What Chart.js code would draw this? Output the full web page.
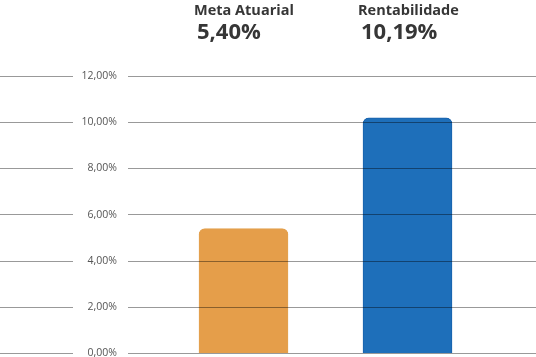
<!DOCTYPE html>
<html>
<head>
<meta charset="utf-8">
<script src="https://cdn.jsdelivr.net/npm/chart.js@4/dist/chart.umd.min.js"></script>
<style>
html,body{margin:0;padding:0;background:#fff;}
#wrap{width:536px;height:357px;position:relative;}
</style>
</head>
<body>
<div id="wrap"><canvas id="c" width="536" height="357"></canvas></div>
<script>
const categories = ['Meta Atuarial', 'Rentabilidade'];
const values = [5.40, 10.19];
const barColors = ['#E59E4A', '#1E6FBA'];
const barBorders = ['#E3A250', '#1862AC'];
const yTicks = [0, 2, 4, 6, 8, 10, 12];

const fmt = v => v.toFixed(2).replace('.', ',') + '%';

const topLabels = {
  id: 'topLabels',
  afterDraw(chart) {
    const ctx = chart.ctx;
    const meta = chart.getDatasetMeta(0);
    ctx.save();
    ctx.fillStyle = '#363636';
    ctx.textAlign = 'left';
    ctx.textBaseline = 'alphabetic';
    meta.data.forEach((bar, i) => {
      const left = bar.x - bar.width / 2;
      ctx.font = 'bold 14.5px "Open Sans"';
      ctx.fillText(categories[i], left - 5, 14.5);
      ctx.font = 'bold 22px "Open Sans"';
      ctx.fillText(fmt(values[i]), left - 2, 39);
    });
    ctx.restore();
  }
};

const gridColor = 'rgba(0,0,0,0.4)';

new Chart(document.getElementById('c'), {
  type: 'bar',
  data: {
    datasets: [{
      data: values.map((v, i) => ({ x: i + 1, y: v })),
      backgroundColor: barColors,
      borderColor: barBorders,
      borderWidth: 1,
      borderRadius: 6,
      barThickness: 89
    }]
  },
  options: {
    responsive: false,
    animation: false,
    layout: { padding: { top: 76, bottom: 3.5, left: 0, right: 0 } },
    plugins: { legend: { display: false }, tooltip: { enabled: false } },
    scales: {
      x: {
        type: 'linear',
        display: false,
        offset: false,
        grid: { offset: false },
        min: 0.2957,
        max: 2.7835
      },
      y: {
        position: 'left',
        weight: 0,
        min: 0,
        max: 12,
        afterBuildTicks: s => { s.ticks = yTicks.map(v => ({ value: v })); },
        afterFit: s => { s.width = 55; s.paddingTop = 0; s.paddingBottom = 0; },
        border: { display: false },
        grid: { color: gridColor, lineWidth: 1, drawTicks: false, z: 1 },
        ticks: {
          padding: 11,
          color: '#555555',
          font: { family: '"Open Sans"', size: 10.5 },
          callback: v => fmt(v)
        }
      },
      y2: {
        position: 'left',
        weight: 1,
        min: 0,
        max: 12,
        afterBuildTicks: s => { s.ticks = yTicks.map(v => ({ value: v })); },
        afterFit: s => { s.width = 73; s.paddingTop = 0; s.paddingBottom = 0; },
        border: { display: false },
        grid: { color: gridColor, lineWidth: 1, drawOnChartArea: false, drawTicks: true, tickLength: 73 },
        ticks: { display: false }
      }
    }
  },
  plugins: [topLabels]
});
</script>
</body>
</html>
